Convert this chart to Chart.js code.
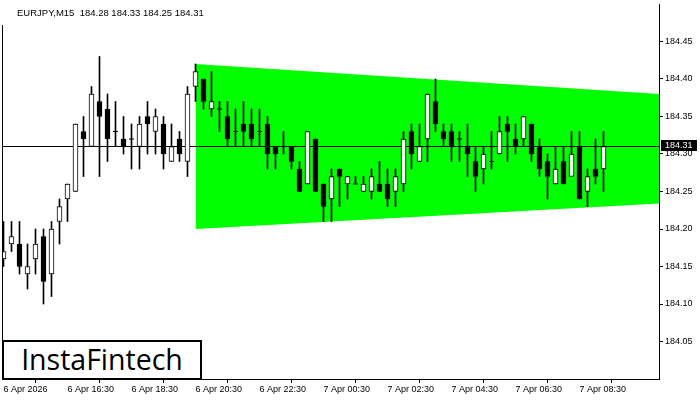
<!DOCTYPE html>
<html><head><meta charset="utf-8">
<script src="https://cdn.jsdelivr.net/npm/chart.js@4.4.1/dist/chart.umd.min.js"></script>
<style>
html,body{margin:0;padding:0;background:#fff;}
#wrap{position:relative;width:700px;height:400px;overflow:hidden;}
#c{position:absolute;left:0;top:0;}
#hdr{position:absolute;left:17px;top:7px;font:9.5px 'Liberation Sans',Arial,sans-serif;color:#000;white-space:pre;line-height:12px;}
#logo{position:absolute;left:2px;top:340px;width:200px;height:40px;box-sizing:border-box;border:2px solid #000;background:#fff;font:28.5px 'Open Sans',sans-serif;color:#000;line-height:34px;text-align:center;letter-spacing:0px;}
</style></head>
<body>
<div id="wrap">
<canvas id="c" width="700" height="400"></canvas>
<div id="hdr"></div>
<div id="logo">InstaFintech</div>
</div>
<script>
// ---- data ----
const symbol = 'EURJPY,M15';
const xTickIndex = [0, 8, 16, 24, 32, 40, 48, 56, 64, 72];
const xTickLabels = ['6 Apr 2026','6 Apr 16:30','6 Apr 18:30','6 Apr 20:30','6 Apr 22:30','7 Apr 00:30','7 Apr 02:30','7 Apr 04:30','7 Apr 06:30','7 Apr 08:30'];
const yTickValues = [184.05, 184.10, 184.15, 184.20, 184.25, 184.30, 184.35, 184.40, 184.45];
const opens  = [184.16,184.18,184.18,184.14,184.16,184.19,184.14,184.21,184.24,184.25,
                184.33,184.31,184.37,184.36,184.33,184.32,184.32,184.31,184.35,184.33,
                184.34,184.29,184.32,184.29,184.39,184.40,184.36,184.36,184.35,184.33,
                184.34,184.34,184.33,184.34,184.31,184.31,184.31,184.28,184.26,184.32,
                184.26,184.24,184.28,184.26,184.26,184.25,184.25,184.26,184.26,184.25,
                184.26,184.33,184.29,184.32,184.37,184.33,184.33,184.32,184.31,184.29,
                184.28,184.29,184.30,184.34,184.32,184.32,184.34,184.31,184.29,184.26,
                184.29,184.27,184.31,184.25,184.28,184.28];
const highs  = [184.21,184.21,184.21,184.18,184.20,184.20,184.21,184.24,184.26,184.34,
                184.35,184.39,184.43,184.38,184.37,184.35,184.34,184.35,184.37,184.36,
                184.35,184.34,184.33,184.39,184.42,184.40,184.41,184.37,184.37,184.36,
                184.37,184.36,184.36,184.35,184.31,184.33,184.31,184.29,184.33,184.32,
                184.26,184.28,184.28,184.27,184.27,184.27,184.28,184.29,184.28,184.28,
                184.33,184.34,184.34,184.38,184.40,184.34,184.34,184.33,184.34,184.31,
                184.31,184.33,184.35,184.35,184.34,184.35,184.34,184.32,184.30,184.31,
                184.31,184.33,184.33,184.28,184.32,184.33];
const lows   = [184.15,184.17,184.14,184.12,184.14,184.10,184.11,184.18,184.21,184.25,
                184.27,184.31,184.27,184.29,184.31,184.30,184.28,184.28,184.30,184.30,
                184.28,184.29,184.29,184.27,184.37,184.36,184.35,184.33,184.31,184.31,
                184.31,184.31,184.31,184.28,184.28,184.30,184.28,184.25,184.26,184.25,
                184.21,184.21,184.23,184.24,184.26,184.25,184.24,184.25,184.23,184.23,
                184.25,184.28,184.29,184.29,184.33,184.31,184.29,184.29,184.27,184.25,
                184.26,184.28,184.30,184.29,184.30,184.31,184.29,184.27,184.24,184.26,
                184.26,184.27,184.24,184.23,184.26,184.25];
const closes = [184.17,184.19,184.15,184.15,184.18,184.13,184.20,184.23,184.26,184.34,
                184.32,184.38,184.35,184.32,184.33,184.31,184.32,184.34,184.34,184.35,
                184.30,184.31,184.30,184.38,184.41,184.37,184.37,184.36,184.32,184.33,
                184.33,184.32,184.33,184.30,184.30,184.31,184.29,184.25,184.33,184.25,
                184.23,184.27,184.27,184.27,184.26,184.26,184.27,184.25,184.24,184.27,
                184.32,184.30,184.31,184.38,184.34,184.32,184.31,184.32,184.30,184.27,
                184.30,184.29,184.33,184.33,184.31,184.35,184.30,184.28,184.27,184.28,
                184.26,184.30,184.24,184.27,184.27,184.31];
const patternX     = [24, 82];
const patternUpper = [184.42, 184.38];
const patternLower = [184.20, 184.234];

// ---- derived ----
const n = closes.length;
const last = n - 1;
const xMin = -0.1875, xMax = 81.9375;
document.getElementById('hdr').textContent =
  symbol + '  ' + [opens[last], highs[last], lows[last], closes[last]].map(v => v.toFixed(2)).join(' ');

const bodies = [], wicks = [], dojis = [];
for (let i = 0; i < n; i++) {
  wicks.push({x: i, y: [lows[i], highs[i]]});
  if (opens[i] === closes[i]) dojis.push({x: i, y: opens[i]});
  else bodies.push({x: i, y: [Math.min(opens[i], closes[i]), Math.max(opens[i], closes[i])], up: closes[i] > opens[i]});
}

const frame = {
  id: 'frame',
  afterDraw(chart) {
    const {ctx, chartArea: a, scales: {y}} = chart;
    ctx.save();
    ctx.strokeStyle = '#000'; ctx.lineWidth = 1;
    ctx.beginPath(); ctx.moveTo(a.left + 0.5, 25); ctx.lineTo(a.left + 0.5, a.bottom); ctx.stroke();
    const yp = y.getPixelForValue(closes[last]);
    ctx.fillStyle = '#000';
    ctx.fillRect(a.right + 2, Math.round(yp) - 6, 36, 11);
    ctx.fillStyle = '#fff';
    ctx.font = '9px "Liberation Sans", Arial, sans-serif';
    ctx.textBaseline = 'middle'; ctx.textAlign = 'left';
    ctx.fillText(closes[last].toFixed(2), a.right + 6, Math.round(yp) - 0.5);
    ctx.restore();
  }
};

Chart.defaults.font.family = '"Liberation Sans", Arial, sans-serif';
Chart.defaults.font.size = 9;
Chart.defaults.color = '#000';

new Chart(document.getElementById('c'), {
  type: 'bar',
  data: {
    datasets: [
      {type: 'line', data: patternX.map((x, i) => ({x, y: patternUpper[i]})), borderWidth: 0, pointRadius: 0, fill: false, order: 10},
      {type: 'line', data: patternX.map((x, i) => ({x, y: patternLower[i]})), borderWidth: 0, pointRadius: 0, fill: '-1', backgroundColor: '#00ff00', order: 9},
      {type: 'line', data: [{x: xMin, y: closes[last]}, {x: xMax, y: closes[last]}], borderColor: '#000', borderWidth: 1, pointRadius: 0, order: 8},
      {type: 'bar', data: wicks, backgroundColor: '#000', borderWidth: 0, barThickness: 1, grouped: false, order: 7},
      {type: 'bar', data: bodies, backgroundColor: c => (c.raw && c.raw.up) ? '#ffffff' : '#000000', borderColor: '#000', borderWidth: 1, borderSkipped: false, barThickness: 5, grouped: false, order: 6},
      {type: 'line', data: dojis, showLine: false, pointStyle: 'line', pointRadius: 2.5, pointBorderWidth: 1, pointBorderColor: '#000', order: 5}
    ]
  },
  options: {
    responsive: false, animation: false, devicePixelRatio: 1, events: [],
    layout: {autoPadding: false, padding: {left: 2, top: 4, right: 0, bottom: 0}},
    plugins: {legend: {display: false}, tooltip: {enabled: false}, title: {display: false}},
    scales: {
      x: {
        type: 'linear', min: xMin, max: xMax, offset: false,
        afterFit: s => { s.height = 21; s.paddingLeft = 0; s.paddingRight = 0; },
        afterBuildTicks: s => { s.ticks = xTickIndex.map(v => ({value: v})); },
        ticks: {autoSkip: false, maxRotation: 0, align: 'start', padding: 1,
                callback: v => { const k = xTickIndex.indexOf(v); return k >= 0 ? xTickLabels[k] : ''; }},
        grid: {drawOnChartArea: false, drawTicks: true, tickLength: 4, color: '#000'},
        border: {display: true, color: '#000', width: 1}
      },
      y: {
        type: 'linear', position: 'right', min: 184.00, max: 184.50,
        afterFit: s => { s.width = 41; s.paddingTop = 0; s.paddingBottom = 0; },
        afterBuildTicks: s => { s.ticks = yTickValues.map(v => ({value: v})); },
        ticks: {padding: 2, callback: v => v.toFixed(2)},
        grid: {drawOnChartArea: false, drawTicks: true, tickLength: 4, color: '#000'},
        border: {display: true, color: '#000', width: 1}
      }
    }
  },
  plugins: [frame]
});
</script>
</body></html>
